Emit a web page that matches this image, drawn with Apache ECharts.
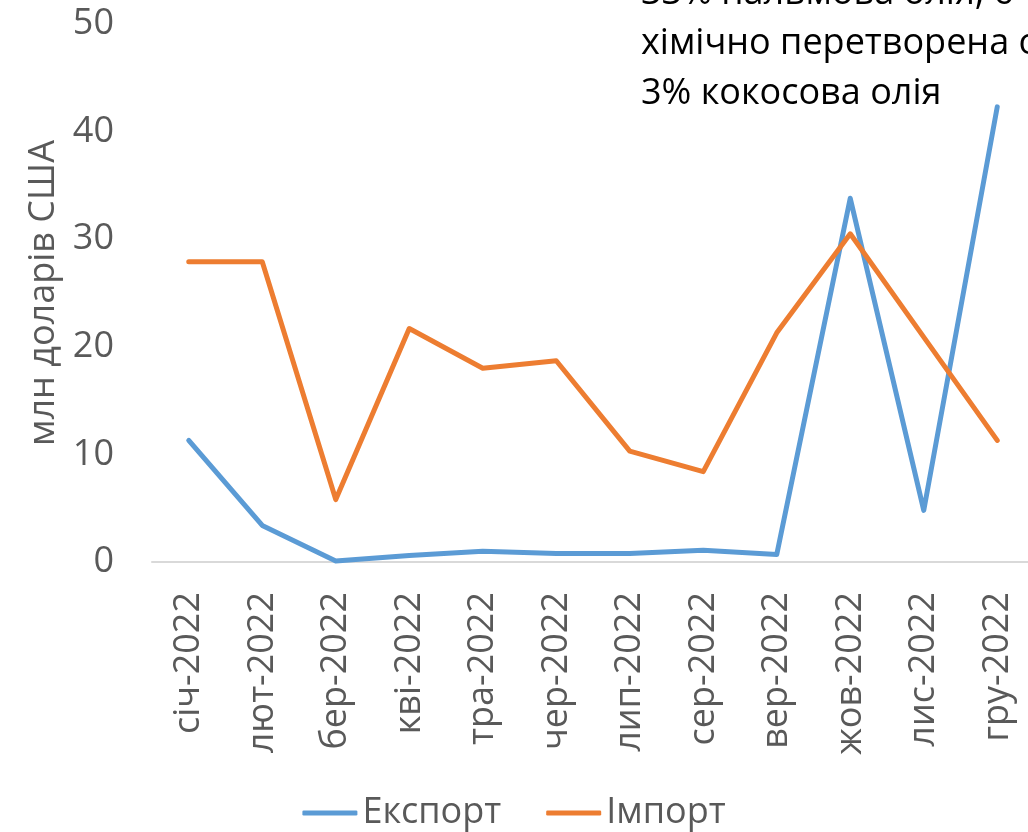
<!DOCTYPE html>
<html>
<head>
<meta charset="utf-8">
<script src="https://cdn.jsdelivr.net/npm/echarts@6/dist/echarts.min.js"></script>
<style>
  html, body { margin: 0; padding: 0; background: #fff; }
  #chart { width: 1028px; height: 832px; }
</style>
</head>
<body>
<div id="chart"></div>
<script>
var months = ["січ-2022", "лют-2022", "бер-2022", "кві-2022", "тра-2022", "чер-2022",
  "лип-2022", "сер-2022", "вер-2022", "жов-2022", "лис-2022", "гру-2022"];
var exportValues = [11.3, 3.4, 0.1, 0.6, 1.0, 0.8, 0.8, 1.1, 0.7, 33.8, 4.8, 42.3];
var importValues = [27.9, 27.9, 5.8, 21.7, 18.0, 18.7, 10.3, 8.4, 21.3, 30.5, 20.9, 11.3];
var noteLines = ["33% пальмова олія, 6", "хімічно перетворена о", "3% кокосова олія"];

var font = "'Open Sans', sans-serif";
var grey = "#595959";

var chart = echarts.init(document.getElementById("chart"));

var option = {
  animation: false,
  backgroundColor: "#fff",
  textStyle: { fontFamily: font },
  grid: {
    left: 152,
    width: 882,
    top: 24,
    bottom: 270,
    containLabel: false,
    outerBoundsMode: "none"
  },
  legend: {
    left: "center",
    top: 790,
    icon: "roundRect",
    itemWidth: 55,
    itemHeight: 5,
    itemGap: 45,
    textStyle: { fontSize: 36, color: grey, fontFamily: font },
    data: ["Експорт", "Імпорт"]
  },
  xAxis: {
    type: "category",
    data: months,
    boundaryGap: true,
    axisLine: { show: true, lineStyle: { color: "#d9d9d9", width: 2 } },
    axisTick: { show: false },
    axisLabel: {
      rotate: 90,
      interval: 0,
      margin: 30,
      color: grey,
      fontSize: 36,
      fontFamily: font
    },
    splitLine: { show: false }
  },
  yAxis: {
    type: "value",
    min: 0,
    max: 50,
    interval: 10,
    name: "млн доларів США",
    nameLocation: "middle",
    nameGap: 88,
    nameTextStyle: { color: grey, fontSize: 36, fontFamily: font },
    axisLine: { show: false },
    axisTick: { show: false },
    splitLine: { show: false },
    axisLabel: { color: grey, fontSize: 36, margin: 38, fontFamily: font }
  },
  graphic: noteLines.map(function (t, i) {
    return {
      type: "text",
      x: 641,
      y: -6 + i * 50,
      style: {
        text: t,
        fill: "#000",
        fontSize: 36,
        fontFamily: font,
        verticalAlign: "middle"
      }
    };
  }),
  series: [
    {
      name: "Експорт",
      type: "line",
      data: exportValues,
      symbol: "none",
      lineStyle: { color: "#5b9bd5", width: 5, cap: "round", join: "round" },
      itemStyle: { color: "#5b9bd5" }
    },
    {
      name: "Імпорт",
      type: "line",
      data: importValues,
      symbol: "none",
      lineStyle: { color: "#ed7d31", width: 5, cap: "round", join: "round" },
      itemStyle: { color: "#ed7d31" }
    }
  ]
};

chart.setOption(option);
</script>
</body>
</html>
